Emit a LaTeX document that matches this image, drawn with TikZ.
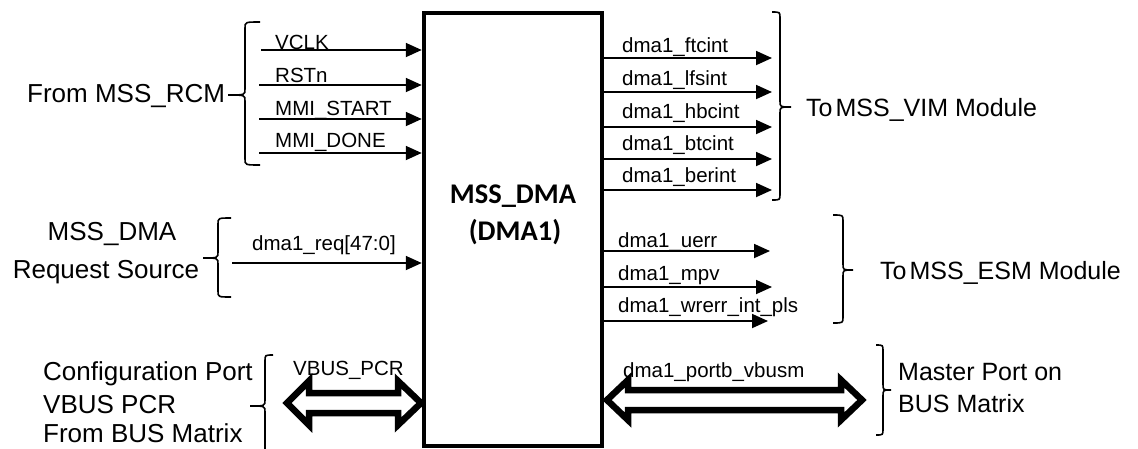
\documentclass[tikz,border=0pt]{standalone}
\usepackage{fontspec}
\setmainfont{Liberation Sans}
\newfontfamily\boxfont{Carlito}
\usetikzlibrary{arrows.meta}

% curly bracket: hook end x, spine x, tip x, top y, tip y, bottom y
\newcommand\bracedraw[6]{%
  \draw[bracket] (#1,#4) .. controls (#2,#4) .. (#2,{#4+6}) -- (#2,{#5-6})
    .. controls (#2,#5) .. (#3,#5) .. controls (#2,#5) .. (#2,{#5+6})
    -- (#2,{#6-6}) .. controls (#2,#6) .. (#1,#6);}

\begin{document}
\begin{tikzpicture}[x=1pt,y=-1pt,
  sig/.style={line width=1.8pt,-{Triangle[length=16pt,width=14pt]}},
  siglabel/.style={anchor=base west,inner sep=0pt,font=\fontsize{20.5}{24}\selectfont},
  biglabel/.style={anchor=base west,inner sep=0pt,font=\fontsize{26}{30}\selectfont},
  bracket/.style={line width=1.6pt},
  bus/.style={line width=6.5pt,fill=white,line join=miter},
  boxtext/.style={anchor=base,inner sep=0pt,font=\boxfont\bfseries\fontsize{28.5}{34}\selectfont},
]
\useasboundingbox (0,0) rectangle (1138,448);

% bus ports (drawn under the block)
\draw[bus] (287,403) -- (309,381) -- (309,393) -- (398,393) -- (398,381)
  -- (421,403) -- (398,425) -- (398,413) -- (309,413) -- (309,425) -- cycle;
\draw[bus] (607,400) -- (628,380) -- (628,390) -- (841,390) -- (841,380)
  -- (862,400) -- (841,420) -- (841,410) -- (628,410) -- (628,420) -- cycle;

% the DMA block
\node[draw,line width=4.5pt,minimum width=178pt,minimum height=433pt,inner sep=0pt,fill=none]
  (dma) at (513,229.5) {};
\node[boxtext] (dmaname) at (513,203) {MSS\_DMA};
\node[boxtext] (dmaid) at (515,240) {(DMA1)};

% inputs from MSS_RCM
\coordinate (vclk) at (261,50);
\coordinate (rstn) at (259,85);
\coordinate (mstart) at (259,119);
\coordinate (mdone) at (259,153);
\draw[sig] (vclk) -- (vclk -| dma.west);
\draw[sig] (rstn) -- (rstn -| dma.west);
\draw[sig] (mstart) -- (mstart -| dma.west);
\draw[sig] (mdone) -- (mdone -| dma.west);
\node[siglabel] (lvclk) at (275,49) {VCLK};
\node[siglabel] (lrstn) at (275,82) {RSTn};
\node[siglabel] (lmstart) at (275,115) {MMI\_START};
\node[siglabel] (lmdone) at (275,147) {MMI\_DONE};
\bracedraw{260}{245}{228}{22}{95}{165}
\node[biglabel] (rcm) at (27,102) {From MSS\_RCM};

% DMA request input
\coordinate (req) at (232,263);
\draw[sig] (req) -- (req -| dma.west);
\node[siglabel] (lreq) at (252,250) {dma1\_req[47:0]};
\bracedraw{231}{218}{203}{218}{258}{297}
\node[biglabel,anchor=base] (src1) at (112,240) {MSS\_DMA};
\node[biglabel,anchor=base] (src2) at (106,278) {Request Source};

% configuration port
\node[siglabel] (lpcr) at (293,375) {VBUS\_PCR};
\bracedraw{273}{265}{250}{355}{406}{470}
\node[biglabel] (cfg1) at (43,380) {Configuration Port};
\node[biglabel] (cfg2) at (43,413) {VBUS PCR};
\node[biglabel] (cfg3) at (43,442) {From BUS Matrix};

% interrupts to MSS_VIM
\coordinate (ftc) at (772,58);
\coordinate (lfs) at (772,92);
\coordinate (hbc) at (772,127);
\coordinate (btc) at (772,159);
\coordinate (ber) at (772,190);
\draw[sig] (ftc -| dma.east) -- (ftc);
\draw[sig] (lfs -| dma.east) -- (lfs);
\draw[sig] (hbc -| dma.east) -- (hbc);
\draw[sig] (btc -| dma.east) -- (btc);
\draw[sig] (ber -| dma.east) -- (ber);
\node[siglabel] (lftc) at (622,52) {dma1\_ftcint};
\node[siglabel] (llfs) at (622,85) {dma1\_lfsint};
\node[siglabel] (lhbc) at (622,118) {dma1\_hbcint};
\node[siglabel] (lbtc) at (622,150) {dma1\_btcint};
\node[siglabel] (lber) at (622,182) {dma1\_berint};
\bracedraw{772}{780}{791}{12}{107}{200}
\node[biglabel,font=\fontsize{25}{30}\selectfont] (vim) at (806,116) {To\hspace{3pt}MSS\_VIM Module};

% errors to MSS_ESM
\coordinate (uerr) at (770,251);
\coordinate (mpv) at (772,287);
\coordinate (wrerr) at (768,321);
\draw[sig] (uerr -| dma.east) -- (uerr);
\draw[sig] (mpv -| dma.east) -- (mpv);
\draw[sig] (wrerr -| dma.east) -- (wrerr);
\node[siglabel] (luerr) at (618,247) {dma1\_uerr};
\node[siglabel] (lmpv) at (618,280) {dma1\_mpv};
\node[siglabel] (lwrerr) at (618,312) {dma1\_wrerr\_int\_pls};
\bracedraw{833}{843}{853}{215}{270}{323}
\node[biglabel,font=\fontsize{25}{30}\selectfont] (esm) at (880,279) {To\hspace{3pt}MSS\_ESM Module};

% master port
\node[siglabel] (lvbusm) at (623,377) {dma1\_portb\_vbusm};
\bracedraw{876}{883}{891}{345}{390}{435}
\node[biglabel,font=\fontsize{25}{30}\selectfont] (mst1) at (898,380) {Master Port on};
\node[biglabel,font=\fontsize{25}{30}\selectfont] (mst2) at (898,412) {BUS Matrix};
\end{tikzpicture}
\end{document}
